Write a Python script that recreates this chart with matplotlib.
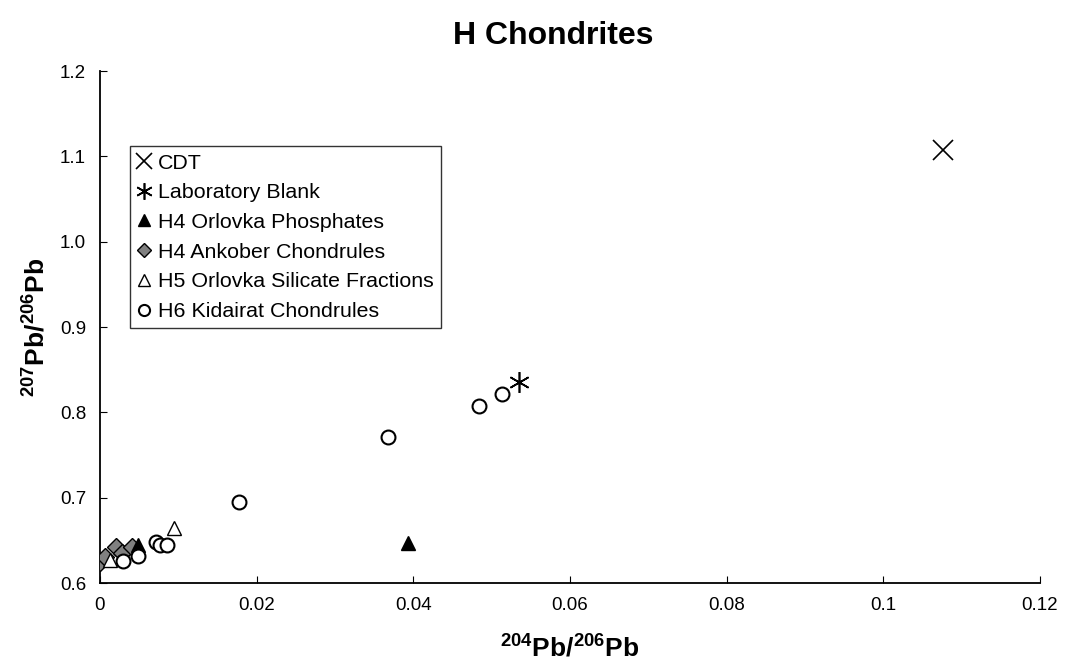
import matplotlib
matplotlib.use("Agg")
import matplotlib.pyplot as plt

plt.rcParams['font.family'] = ['Liberation Sans', 'DejaVu Sans']
plt.rcParams['mathtext.fontset'] = 'custom'
plt.rcParams['mathtext.rm'] = 'Liberation Sans:bold'
plt.rcParams['mathtext.bf'] = 'Liberation Sans:bold'

cdt_x = [0.1076]
cdt_y = [1.107]
blank_x = [0.0535]
blank_y = [0.836]
phos_x = [0.0393, 0.0048]
phos_y = [0.647, 0.645]
ank_x = [0.0000, 0.0006, 0.0020, 0.0028, 0.0041]
ank_y = [0.625, 0.630, 0.642, 0.635, 0.642]
sil_x = [0.0013, 0.0095]
sil_y = [0.627, 0.665]
kid_x = [0.0030, 0.0048, 0.0072, 0.0077, 0.0085, 0.0177, 0.0368, 0.0484, 0.0513]
kid_y = [0.626, 0.632, 0.648, 0.644, 0.645, 0.695, 0.771, 0.808, 0.821]

fig = plt.figure(figsize=(10.66, 6.72), dpi=100)
ax = fig.add_axes([0.0938, 0.1324, 0.8818, 0.7619])

ms = 10
ax.plot(cdt_x, cdt_y, linestyle='none', marker='x', color='black', markersize=15, markeredgewidth=1.2, label='CDT')
ax.plot(blank_x, blank_y, linestyle='none', marker=(6, 2, 0), color='black', markersize=15, markeredgewidth=1.2, label='Laboratory Blank')
ax.plot(ank_x, ank_y, linestyle='none', marker='D', markerfacecolor='#808080', markeredgecolor='black', markersize=9, markeredgewidth=1, label='H4 Ankober Chondrules', zorder=3)
ax.plot(phos_x, phos_y, linestyle='none', marker='^', markerfacecolor='black', markeredgecolor='black', markersize=ms, label='H4 Orlovka Phosphates', zorder=3)
ax.plot(sil_x, sil_y, linestyle='none', marker='^', markerfacecolor='white', markeredgecolor='black', markersize=ms, markeredgewidth=1, label='H5 Orlovka Silicate Fractions', zorder=4)
ax.plot(kid_x, kid_y, linestyle='none', marker='o', markerfacecolor='white', markeredgecolor='black', markersize=ms, markeredgewidth=1.5, label='H6 Kidairat Chondrules', zorder=5)

ax.set_xlim(0, 0.12)
ax.set_ylim(0.6, 1.2)
ax.set_xticks([0, 0.02, 0.04, 0.06, 0.08, 0.1, 0.12])
ax.set_xticklabels(['0', '0.02', '0.04', '0.06', '0.08', '0.1', '0.12'])
ax.set_yticks([0.6, 0.7, 0.8, 0.9, 1.0, 1.1, 1.2])
ax.set_yticklabels(['0.6', '0.7', '0.8', '0.9', '1.0', '1.1', '1.2'])
ax.tick_params(direction='in', labelsize=13.5, length=5, pad=10)
ax.spines['top'].set_visible(False)
ax.spines['right'].set_visible(False)
ax.spines['left'].set_linewidth(1.3)
ax.spines['bottom'].set_linewidth(1.3)

fig.text(0.519, 0.947, 'H Chondrites', fontsize=23, fontweight='bold', ha='center', va='center')
ax.set_xlabel(r'$^{204}$Pb/$^{206}$Pb', fontsize=19, fontweight='bold', labelpad=14)
ax.set_ylabel(r'$^{207}$Pb/$^{206}$Pb', fontsize=19, fontweight='bold', labelpad=8)

handles, labels = ax.get_legend_handles_labels()
order = ['CDT', 'Laboratory Blank', 'H4 Orlovka Phosphates', 'H4 Ankober Chondrules',
         'H5 Orlovka Silicate Fractions', 'H6 Kidairat Chondrules']
hmap = dict(zip(labels, handles))
leg = ax.legend([hmap[l] for l in order], order, loc='upper left', bbox_to_anchor=(0.032, 0.8535),
                fontsize=15.4, frameon=True, fancybox=False, edgecolor='black', markerscale=0.8,
                handlelength=0.6, handletextpad=0.35, labelspacing=0.5, borderpad=0.35,
                borderaxespad=0)
leg.get_frame().set_linewidth(1.0)

fig.savefig('out.png', dpi=100)
